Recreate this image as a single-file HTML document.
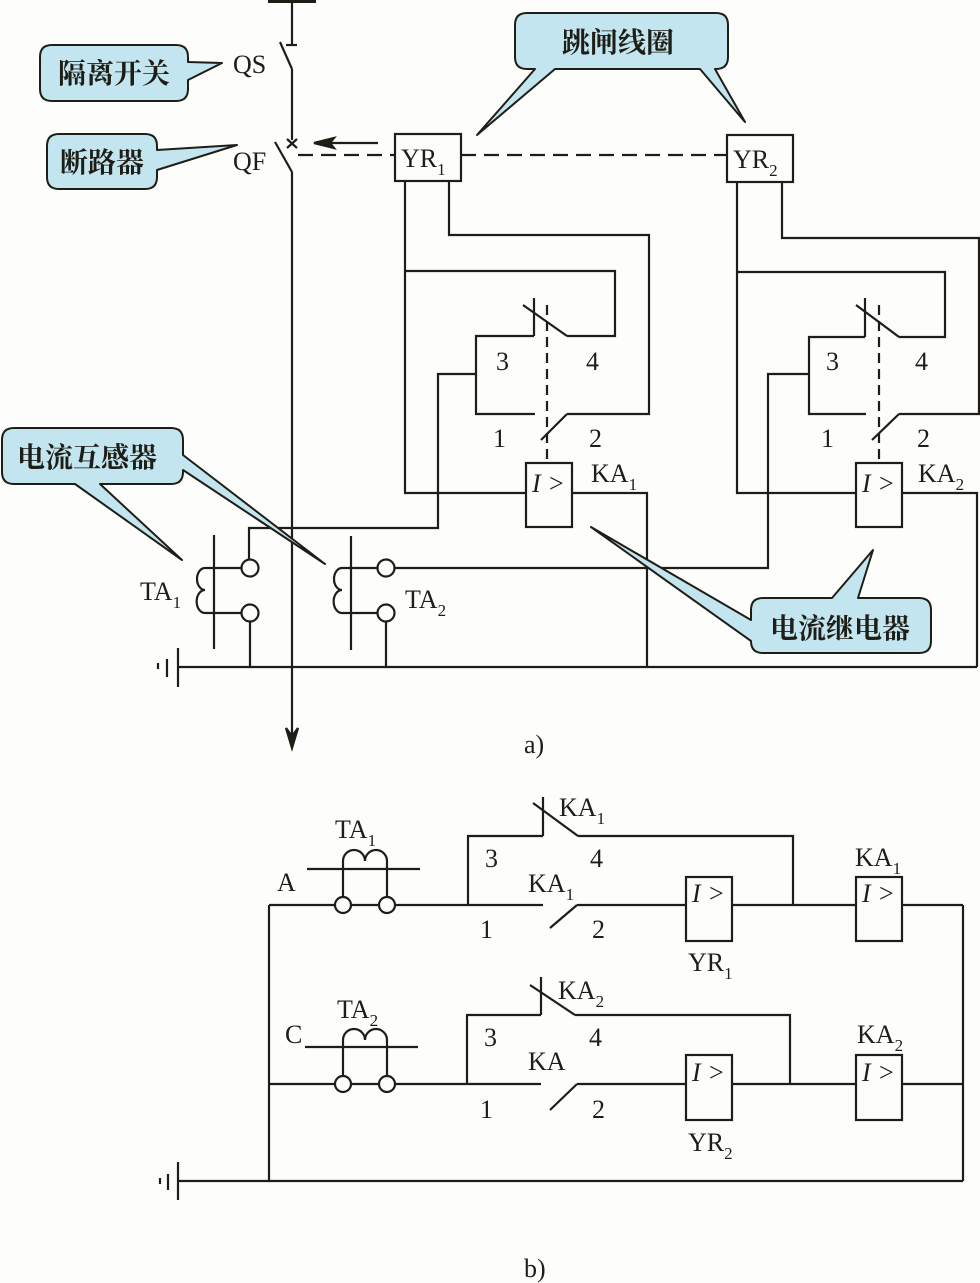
<!DOCTYPE html>
<html><head><meta charset="utf-8"><style>
html,body{margin:0;padding:0;background:#fdfdfb;}
svg{display:block;}
text{font-family:"Liberation Serif",serif;fill:#1e1e16;}
.cj{font-family:"Liberation Serif","Noto Serif CJK SC",serif;font-size:28px;font-weight:bold;}
</style></head><body>
<svg width="980" height="1283" viewBox="0 0 980 1283" xmlns="http://www.w3.org/2000/svg">
<g fill="none" stroke="#1e1e16" stroke-width="2.2" stroke-linejoin="miter">
<line x1="268" y1="1" x2="316" y2="1" stroke-width="4"/>
<line x1="292" y1="0" x2="292" y2="45"/>
<line x1="286" y1="45" x2="297" y2="45"/>
<line x1="280" y1="42" x2="292" y2="69"/>
<line x1="292" y1="69" x2="292" y2="140"/>
<line x1="287" y1="139" x2="297" y2="148"/><line x1="297" y1="139" x2="287" y2="148"/>
<line x1="275" y1="142" x2="292" y2="172"/>
<line x1="292" y1="172" x2="292" y2="745"/>
<path d="M286 728 L292 748 L298 728 L292 736 Z" fill="#1e1e16"/>
<line x1="298" y1="155" x2="395" y2="155" stroke-dasharray="15 8"/>
<line x1="461" y1="155" x2="727" y2="155" stroke-dasharray="15 8"/>
<line x1="330" y1="143" x2="378" y2="143"/>
<path d="M314 143 L334 138 L330 143 L334 148 Z" fill="#1e1e16"/>
<rect x="395" y="134" width="66" height="47"/>
<rect x="727" y="135" width="66" height="47"/>
<polyline points="405,181 405,493 526,493"/>
<polyline points="449,181 449,235 649,235 649,414 567,414"/>
<line x1="567" y1="414" x2="541" y2="440"/>
<polyline points="535,414 476,414 476,336 534,336"/>
<line x1="534" y1="298" x2="534" y2="336"/>
<line x1="523" y1="305" x2="567" y2="336"/>
<polyline points="405,271 615,271 615,336 567,336"/>
<line x1="547" y1="305" x2="547" y2="463" stroke-dasharray="10 6"/>
<rect x="526" y="463" width="46" height="64"/>
<polyline points="572,493 647,493 647,667"/>
<polyline points="476,374 438,374 438,528 249,528 249,560"/>
<polyline points="737,182 737,493 856,493"/>
<polyline points="782,182 782,238 979,238 979,414 899,414"/>
<line x1="899" y1="414" x2="872" y2="440"/>
<polyline points="866,414 809,414 809,337 865,337"/>
<line x1="865" y1="298" x2="865" y2="337"/>
<line x1="856" y1="305" x2="899" y2="337"/>
<polyline points="737,272 945,272 945,337 899,337"/>
<line x1="879" y1="305" x2="879" y2="463" stroke-dasharray="10 6"/>
<rect x="856" y="463" width="46" height="64"/>
<polyline points="902,493 977,493 977,667"/>
<polyline points="809,374 768,374 768,568 394,568"/>
<line x1="214" y1="535" x2="214" y2="649"/>
<path d="M214 568 L205 568 A8 11 0 0 0 205 590 A8 11 0 0 0 205 613 L214 613"/>
<line x1="214" y1="568" x2="241" y2="568"/><line x1="214" y1="613" x2="241" y2="613"/>
<circle cx="250" cy="568" r="8.5"/><circle cx="250" cy="613" r="8.5"/>
<line x1="250" y1="621" x2="250" y2="667"/>
<line x1="351" y1="536" x2="351" y2="650"/>
<path d="M351 568 L342 568 A8 11 0 0 0 342 590 A8 11 0 0 0 342 613 L351 613"/>
<line x1="351" y1="568" x2="377" y2="568"/><line x1="351" y1="613" x2="377" y2="613"/>
<circle cx="386" cy="568" r="8.5"/><circle cx="386" cy="613" r="8.5"/>
<line x1="386" y1="621" x2="386" y2="667"/>
<line x1="178" y1="667" x2="977" y2="667"/>
<line x1="178" y1="648" x2="178" y2="687"/>
<line x1="167" y1="659" x2="167" y2="677"/>
<line x1="158" y1="663" x2="158" y2="669"/>

<line x1="269" y1="905" x2="269" y2="1181"/>
<line x1="178" y1="1181" x2="963" y2="1181"/>
<line x1="178" y1="1162" x2="178" y2="1200"/>
<line x1="168" y1="1174" x2="168" y2="1190"/>
<line x1="160" y1="1178" x2="160" y2="1184"/>
<line x1="963" y1="905" x2="963" y2="1181"/>
<line x1="269" y1="905" x2="335" y2="905"/><line x1="351" y1="905" x2="379" y2="905"/><line x1="395" y1="905" x2="543" y2="905"/>
<circle cx="343" cy="905" r="8"/><circle cx="387" cy="905" r="8"/>
<line x1="307" y1="869" x2="420" y2="869"/>
<path d="M343 897 L343 861 A11 11 0 0 1 365 861 A11 11 0 0 1 387 861 L387 897"/>
<polyline points="468,905 468,836 543,836"/>
<line x1="543" y1="797" x2="543" y2="836"/>
<line x1="533" y1="803" x2="578" y2="836"/>
<polyline points="578,836 793,836 793,905"/>
<line x1="550" y1="928" x2="577" y2="905"/>
<line x1="577" y1="905" x2="686" y2="905"/>
<rect x="686" y="877" width="46" height="64"/>
<line x1="732" y1="905" x2="856" y2="905"/>
<rect x="856" y="877" width="46" height="64"/>
<line x1="902" y1="905" x2="963" y2="905"/>
<line x1="269" y1="1084" x2="335" y2="1084"/><line x1="351" y1="1084" x2="379" y2="1084"/><line x1="395" y1="1084" x2="541" y2="1084"/>
<circle cx="343" cy="1084" r="8"/><circle cx="387" cy="1084" r="8"/>
<line x1="305" y1="1047" x2="418" y2="1047"/>
<path d="M343 1076 L343 1040 A11 11 0 0 1 365 1040 A11 11 0 0 1 387 1040 L387 1076"/>
<polyline points="467,1084 467,1015 541,1015"/>
<line x1="541" y1="977" x2="541" y2="1015"/>
<line x1="530" y1="985" x2="575" y2="1015"/>
<polyline points="575,1015 790,1015 790,1084"/>
<line x1="550" y1="1110" x2="577" y2="1084"/>
<line x1="577" y1="1084" x2="686" y2="1084"/>
<rect x="686" y="1055" width="46" height="65"/>
<line x1="732" y1="1084" x2="856" y2="1084"/>
<rect x="856" y="1055" width="46" height="65"/>
<line x1="902" y1="1084" x2="963" y2="1084"/>
</g>

<g fill="#c3e5f0" stroke="#1e1e16" stroke-width="2" stroke-linejoin="round">
<path d="M52 45 H176 Q188 45 188 57 V62 L222 63 L188 80 V89 Q188 101 176 101 H52 Q40 101 40 89 V57 Q40 45 52 45 Z"/>
<path d="M59 134 H145 Q157 134 157 146 V150 L237 145 L157 170 V177 Q157 189 145 189 H59 Q47 189 47 177 V146 Q47 134 59 134 Z"/>
<path d="M527 13 H716 Q728 13 728 25 V57 Q728 69 716 69 H715 L745 122 L700 69 H555 L477 135 L535 69 H527 Q515 69 515 57 V25 Q515 13 527 13 Z"/>
<path d="M14 428 H171 Q183 428 183 440 V455 L325 564 L183 470 V472 Q183 484 171 484 H100 L182 560 L75 484 H14 Q2 484 2 472 V440 Q2 428 14 428 Z"/>
<path d="M763 598 H832 L873 550 L858 598 H919 Q931 598 931 610 V641 Q931 653 919 653 H763 Q751 653 751 641 L591 527 L751 620 V610 Q751 598 763 598 Z"/>
</g>
<text class="cj" x="58" y="83">隔离开关</text>
<text class="cj" x="60" y="172">断路器</text>
<text class="cj" x="562" y="52">跳闸线圈</text>
<text class="cj" x="17" y="467">电流互感器</text>
<text class="cj" x="770" y="638">电流继电器</text>

<g font-size="26">
<text x="233" y="73">QS</text>
<text x="233" y="170">QF</text>
<text x="401" y="167">YR<tspan font-size="17" dy="8">1</tspan></text>
<text x="733" y="168">YR<tspan font-size="17" dy="8">2</tspan></text>
<text x="496" y="370">3</text><text x="586" y="370">4</text>
<text x="493" y="447">1</text><text x="589" y="447">2</text>
<text x="826" y="370">3</text><text x="915" y="370">4</text>
<text x="821" y="447">1</text><text x="917" y="447">2</text>
<text x="532" y="492" font-style="italic">I</text><text x="549" y="492">&gt;</text>
<text x="862" y="492" font-style="italic">I</text><text x="879" y="492">&gt;</text>
<text x="591" y="482">KA<tspan font-size="17" dy="8">1</tspan></text>
<text x="918" y="482">KA<tspan font-size="17" dy="8">2</tspan></text>
<text x="140" y="600">TA<tspan font-size="17" dy="8">1</tspan></text>
<text x="405" y="608">TA<tspan font-size="17" dy="8">2</tspan></text>
<text x="524" y="753">a)</text>

<text x="335" y="838">TA<tspan font-size="17" dy="8">1</tspan></text>
<text x="277" y="891">A</text>
<text x="559" y="816">KA<tspan font-size="17" dy="8">1</tspan></text>
<text x="485" y="867">3</text><text x="590" y="867">4</text>
<text x="528" y="892">KA<tspan font-size="17" dy="8">1</tspan></text>
<text x="480" y="938">1</text><text x="592" y="938">2</text>
<text x="692" y="902" font-style="italic">I</text><text x="709" y="902">&gt;</text>
<text x="862" y="902" font-style="italic">I</text><text x="879" y="902">&gt;</text>
<text x="688" y="971">YR<tspan font-size="17" dy="8">1</tspan></text>
<text x="855" y="866">KA<tspan font-size="17" dy="8">1</tspan></text>

<text x="337" y="1018">TA<tspan font-size="17" dy="8">2</tspan></text>
<text x="285" y="1043">C</text>
<text x="558" y="999">KA<tspan font-size="17" dy="8">2</tspan></text>
<text x="484" y="1046">3</text><text x="589" y="1046">4</text>
<text x="528" y="1070">KA</text>
<text x="480" y="1118">1</text><text x="592" y="1118">2</text>
<text x="692" y="1081" font-style="italic">I</text><text x="709" y="1081">&gt;</text>
<text x="862" y="1081" font-style="italic">I</text><text x="879" y="1081">&gt;</text>
<text x="688" y="1151">YR<tspan font-size="17" dy="8">2</tspan></text>
<text x="857" y="1043">KA<tspan font-size="17" dy="8">2</tspan></text>
<text x="524" y="1277">b)</text>
</g>
</svg>
</body></html>
